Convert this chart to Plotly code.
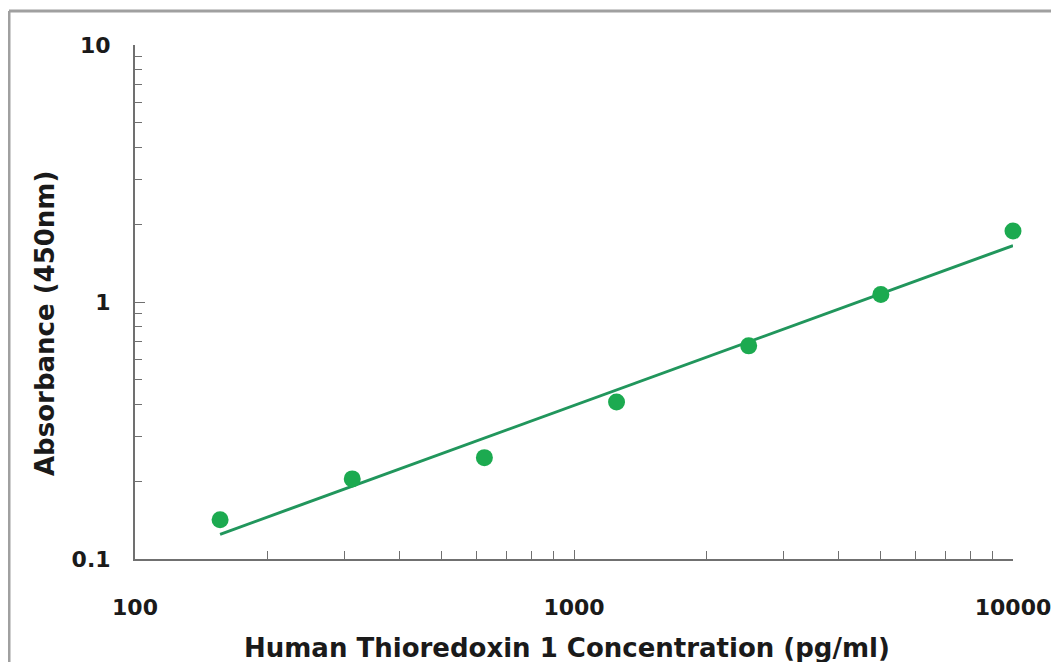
import numpy as np
import plotly.graph_objects as go

concentration = [156.25, 312.5, 625, 1250, 2500, 5000, 10000]
absorbance = [0.142, 0.205, 0.248, 0.408, 0.675, 1.07, 1.89]
x_ticks = [100, 1000, 10000]
x_tick_labels = ["100", "1000", "10000"]
x_minor_ticks = [200, 300, 400, 500, 600, 700, 800, 900,
                 2000, 3000, 4000, 5000, 6000, 7000, 8000, 9000]
y_ticks = [0.1, 1, 10]
y_tick_labels = ["0.1", "1", "10"]
y_minor_ticks = [0.2, 0.3, 0.4, 0.5, 0.6, 0.7, 0.8, 0.9,
                 2, 3, 4, 5, 6, 7, 8, 9]
x_title = "Human Thioredoxin 1 Concentration (pg/ml)"
y_title = "Absorbance (450nm)"

# power-law trendline (least squares in log-log space)
slope, intercept = np.polyfit(np.log10(concentration), np.log10(absorbance), 1)
fit_x = np.array([concentration[0], concentration[-1]])
fit_y = 10 ** (intercept + slope * np.log10(fit_x))

fig = go.Figure()
fig.add_trace(go.Scatter(x=fit_x, y=fit_y, mode="lines",
                         line=dict(color="rgb(33,150,92)", width=3),
                         showlegend=False, hoverinfo="skip", cliponaxis=False))
fig.add_trace(go.Scatter(x=concentration, y=absorbance, mode="markers",
                         marker=dict(color="rgb(28,170,80)", size=17),
                         showlegend=False, cliponaxis=False))

font_family = "DejaVu Sans, Arial, sans-serif"
# page has an 8px body margin; figure coordinates = page coordinates - 8
W, H = 1043, 654
l, t = 127, 37
r = W - 1005
b = H - 551
pw, ph = W - l - r, H - t - b
text_col = "#1a1a1a"
axis_col = "#707070"
bx, by = 0, 3  # outer border position (figure px)

fig.update_layout(
    width=W, height=H,
    margin=dict(l=l, r=r, t=t, b=b, pad=0),
    paper_bgcolor="white", plot_bgcolor="white",
    font=dict(family=font_family, color=text_col),
    shapes=[
        dict(type="line", xref="paper", yref="paper",
             x0=(bx + 1 - l) / pw, x1=1.2, y0=1 + (t - by) / ph, y1=1 + (t - by) / ph,
             line=dict(color="#a0a0a0", width=3)),
        dict(type="line", xref="paper", yref="paper",
             x0=(bx + 1 - l) / pw, x1=(bx + 1 - l) / pw, y0=1 + (t - by) / ph, y1=-0.4,
             line=dict(color="#a0a0a0", width=3)),
    ],
    annotations=[
        dict(text=y_title, textangle=-90, showarrow=False,
             xref="paper", yref="paper",
             x=(45 - 8 - l) / pw, y=1 - (324 - 8 - t) / ph,
             xanchor="center", yanchor="middle",
             font=dict(size=26, weight="bold", color=text_col)),
        dict(text=x_title, showarrow=False,
             xref="paper", yref="paper",
             x=(567 - 8 - l) / pw, y=1 - (648 - 8 - t) / ph,
             xanchor="center", yanchor="middle",
             font=dict(size=26, weight="bold", color=text_col)),
    ],
)
fig.update_xaxes(
    type="log", range=[2, 4], automargin=False,
    tickvals=x_ticks, ticktext=x_tick_labels,
    showgrid=False, zeroline=False,
    showline=True, linecolor=axis_col, linewidth=2,
    ticks="inside", ticklen=9, tickcolor=axis_col, tickwidth=1,
    minor=dict(tickvals=x_minor_ticks, ticks="inside", ticklen=8,
               tickcolor=axis_col, tickwidth=1, showgrid=False),
    tickfont=dict(size=22, weight="bold", color=text_col),
    ticklabelstandoff=28, ticklabeloverflow="allow",
)
fig.update_yaxes(
    type="log", range=[-1, 1], automargin=False,
    tickvals=y_ticks, ticktext=y_tick_labels,
    showgrid=False, zeroline=False,
    showline=True, linecolor=axis_col, linewidth=2,
    ticks="inside", ticklen=10, tickcolor=axis_col, tickwidth=1,
    minor=dict(tickvals=y_minor_ticks, ticks="inside", ticklen=7,
               tickcolor=axis_col, tickwidth=1, showgrid=False),
    tickfont=dict(size=22, weight="bold", color=text_col),
    ticklabelstandoff=18, ticklabeloverflow="allow",
)

fig.write_html("out.html")
